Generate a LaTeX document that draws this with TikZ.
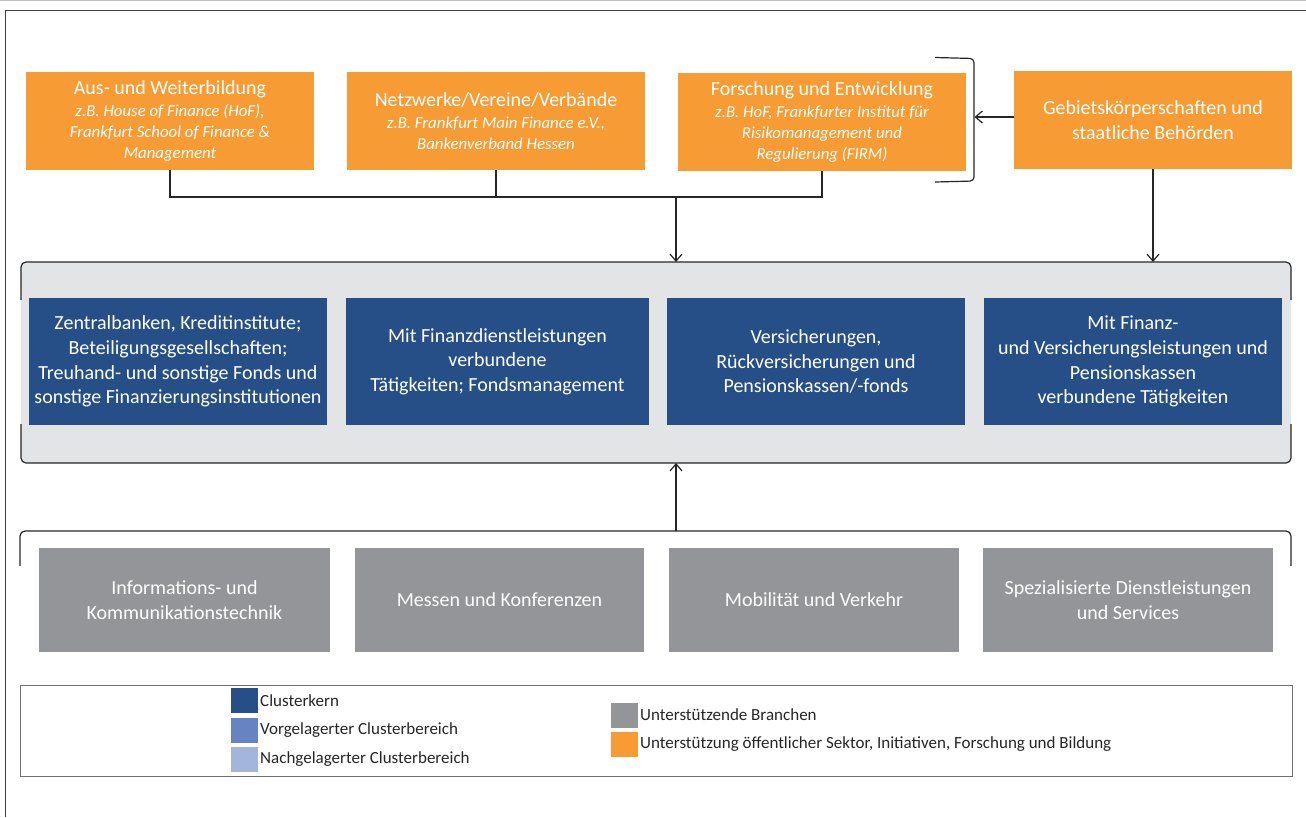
\documentclass[tikz,border=0pt]{standalone}
\usepackage{fontspec}
\setmainfont{Carlito}
\usetikzlibrary{arrows.meta}

\definecolor{orng}{HTML}{F79B34}
\definecolor{cblue}{HTML}{264F87}
\definecolor{vblue}{HTML}{6883C2}
\definecolor{nblue}{HTML}{A3B5DB}
\definecolor{sgray}{HTML}{939598}
\definecolor{panelc}{HTML}{E3E4E6}
\definecolor{lcol}{HTML}{262626}
\definecolor{framec}{HTML}{404040}
\definecolor{legframe}{HTML}{707070}
\definecolor{ltext}{HTML}{262626}

\tikzset{
  base/.style={inner sep=0pt, outer sep=0pt, align=center, text=white},
  obox/.style={base, fill=orng, minimum height=98, font=\fontsize{16.8}{20.7}\selectfont\itshape},
  cbox/.style={base, fill=cblue, minimum height=127, font=\fontsize{20}{24.7}\selectfont},
  sbox/.style={base, fill=sgray, minimum height=103.4, font=\fontsize{20}{24.7}\selectfont},
  line/.style={draw=lcol, line width=1.2pt},
  arr/.style={line, -{Straight Barb[length=7pt,width=12pt]}},
  swatch/.style={minimum width=27, minimum height=25, inner sep=0pt, outer sep=0pt},
  legtxt/.style={anchor=west, inner sep=2pt, font=\fontsize{17}{20}\selectfont, text=ltext},
}
\newcommand{\ttl}[1]{{\upshape\fontsize{20}{22}\selectfont #1}}

\begin{document}
\begin{tikzpicture}[x=1pt, y=-1pt]
\useasboundingbox (0,0) rectangle (1306,817);

% outer frame (cut by the page edge)
\draw[black!25, line width=0.8pt] (0,0.5) -- (1306,0.5);
\draw[framec, line width=1.2pt] (5.5,817) -- (5.5,10.5) -- (1306,10.5);

% top row: support from public sector, initiatives, research and education
\node[obox, minimum width=288] (aus) at (170,121)
  {\ttl{Aus- und Weiterbildung}\\[1.5pt] z.B. House of Finance (HoF),\\ Frankfurt School of Finance \&\\ Management};
\node[obox, minimum width=298] (netz) at (496,121)
  {\ttl{Netzwerke/Vereine/Verbände}\\[1.5pt] z.B. Frankfurt Main Finance e.V.,\\ Bankenverband Hessen};
\node[obox, minimum width=288] (fue) at (822,122)
  {\ttl{Forschung und Entwicklung}\\[1.5pt] z.B. HoF, Frankfurter Institut für\\ Risikomanagement und\\ Regulierung (FIRM)};
\node[obox, minimum width=278, font=\fontsize{20}{25.5}\selectfont] (geb) at (1153,120)
  {Gebietskörperschaften und\\ staatliche Behörden};

% bracket around the research box
\draw[line, rounded corners=4pt] (935,57.5) -- (974,58.5) -- (974,181) -- (935,182);
\coordinate (brk) at (974.5,117);
\draw[arr] (geb.west |- brk) -- (brk);

% cluster core panel
\node[fill=panelc, rounded corners=5pt, minimum width=1270, minimum height=201, inner sep=0pt, outer sep=0pt] (panel) at (656,362.5) {};
\draw[line, rounded corners=5pt] (21,300) -- (21,262) -- (1291,262) -- (1291,300);
\draw[line, rounded corners=5pt] (21,424) -- (21,463) -- (1291,463) -- (1291,424);

\node[cbox, minimum width=298] (c1) at (178,361.5)
  {Zentralbanken, Kreditinstitute;\\ Beteiligungsgesellschaften;\\ Treuhand- und sonstige Fonds und\\ sonstige Finanzierungsinstitutionen};
\node[cbox, minimum width=303] (c2) at (497.5,361.5)
  {Mit Finanzdienstleistungen\\ verbundene\\ Tätigkeiten; Fondsmanagement};
\node[cbox, minimum width=298] (c3) at (816,361.5)
  {Versicherungen,\\ Rückversicherungen und\\ Pensionskassen/-fonds};
\node[cbox, minimum width=298] (c4) at (1133,361.5)
  {Mit Finanz-\\ und Versicherungsleistungen und\\ Pensionskassen\\ verbundene Tätigkeiten};

% connectors from the top row into the panel
\coordinate (hub) at (676,197);
\draw[line] (aus.south) -- (aus.south |- hub) -- (fue.south |- hub) -- (fue.south);
\draw[line] (netz.south) -- (netz.south |- hub);
\draw[arr] (hub) -- (hub |- panel.north);
\draw[arr] (geb.south) -- (geb.south |- panel.north);

% supporting industries
\coordinate (lowtop) at (676,531);
\draw[line, rounded corners=5pt] (20,566) -- (20,531) -- (1291,531) -- (1291,566);
\draw[arr] (lowtop) -- (lowtop |- panel.south);

\node[sbox, minimum width=291] (g1) at (184.5,600) {Informations- und\\ Kommunikationstechnik};
\node[sbox, minimum width=289] (g2) at (499.5,600) {Messen und Konferenzen};
\node[sbox, minimum width=290] (g3) at (814,600) {Mobilität und Verkehr};
\node[sbox, minimum width=290] (g4) at (1128,600) {Spezialisierte Dienstleistungen\\ und Services};

% legend
\node[draw=legframe, line width=1pt, minimum width=1272, minimum height=91, inner sep=0pt, outer sep=0pt] (legend) at (656,730.5) {};
\node[swatch, fill=cblue] (s1) at (244.5,700.5) {};
\node[swatch, fill=vblue] (s2) at (244.5,730.5) {};
\node[swatch, fill=nblue] (s3) at (244.5,759.5) {};
\node[swatch, fill=sgray] (s4) at (624.5,715) {};
\node[swatch, fill=orng]  (s5) at (624.5,744.5) {};
\node[legtxt] (l1) at (s1.east) {Clusterkern};
\node[legtxt] (l2) at (s2.east) {Vorgelagerter Clusterbereich};
\node[legtxt] (l3) at (s3.east) {Nachgelagerter Clusterbereich};
\node[legtxt] (l4) at (s4.east) {Unterstützende Branchen};
\node[legtxt] (l5) at (s5.east) {Unterstützung öffentlicher Sektor, Initiativen, Forschung und Bildung};
\end{tikzpicture}
\end{document}
